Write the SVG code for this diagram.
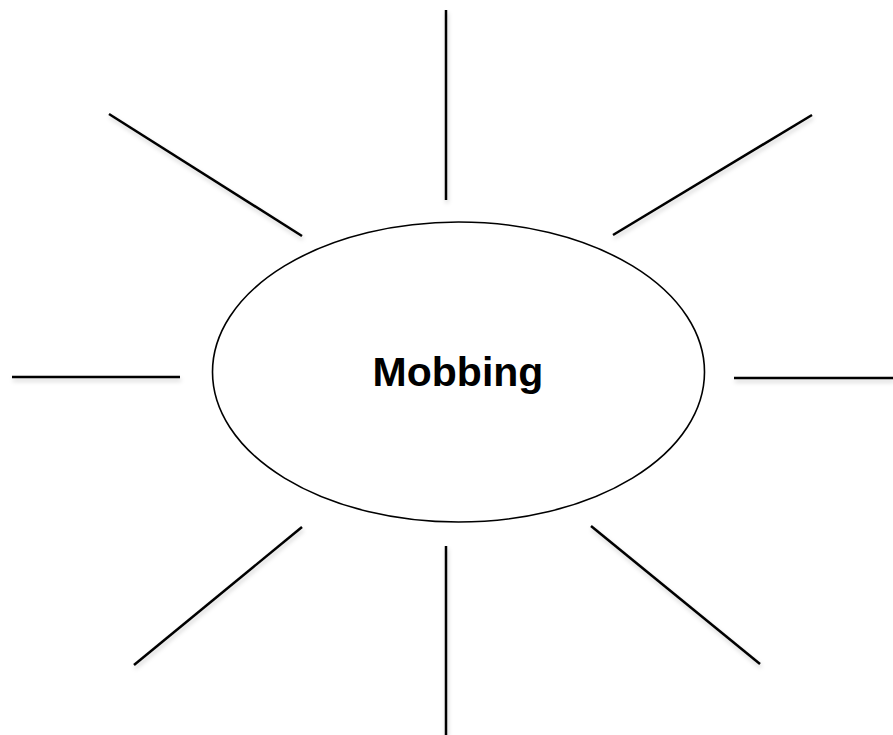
<svg xmlns="http://www.w3.org/2000/svg" width="893" height="735" viewBox="0 0 893 735">
<defs>
<filter id="sh" filterUnits="userSpaceOnUse" x="0" y="0" width="893" height="735">
<feDropShadow dx="1" dy="3" stdDeviation="2" flood-color="#000" flood-opacity="0.18"/>
</filter>
<style>
.ln{stroke:#000;stroke-width:2.5;fill:none;filter:url(#sh)}
.el{stroke:#000;stroke-width:1.6;fill:#fff}
.lbl{font-family:"Liberation Sans",Arial,sans-serif;font-weight:bold;font-size:41px;fill:#000}
</style>
</defs>
<rect width="893" height="735" fill="#fff"/>
<g id="connectors">
<line class="ln" x1="446" y1="10" x2="446" y2="200"/>
<line class="ln" x1="109" y1="114" x2="302" y2="236"/>
<line class="ln" x1="812" y1="115" x2="613" y2="235"/>
<line class="ln" x1="12" y1="377" x2="180" y2="377"/>
<line class="ln" x1="734" y1="378" x2="893" y2="378"/>
<line class="ln" x1="302" y1="527" x2="134" y2="665"/>
<line class="ln" x1="446" y1="546" x2="446" y2="735"/>
<line class="ln" x1="591" y1="526" x2="760" y2="664"/>
</g>
<g id="center">
<ellipse class="el" cx="458.5" cy="372" rx="246" ry="150"/>
<text class="lbl" x="458" y="386" text-anchor="middle">Mobbing</text>
</g>
</svg>
